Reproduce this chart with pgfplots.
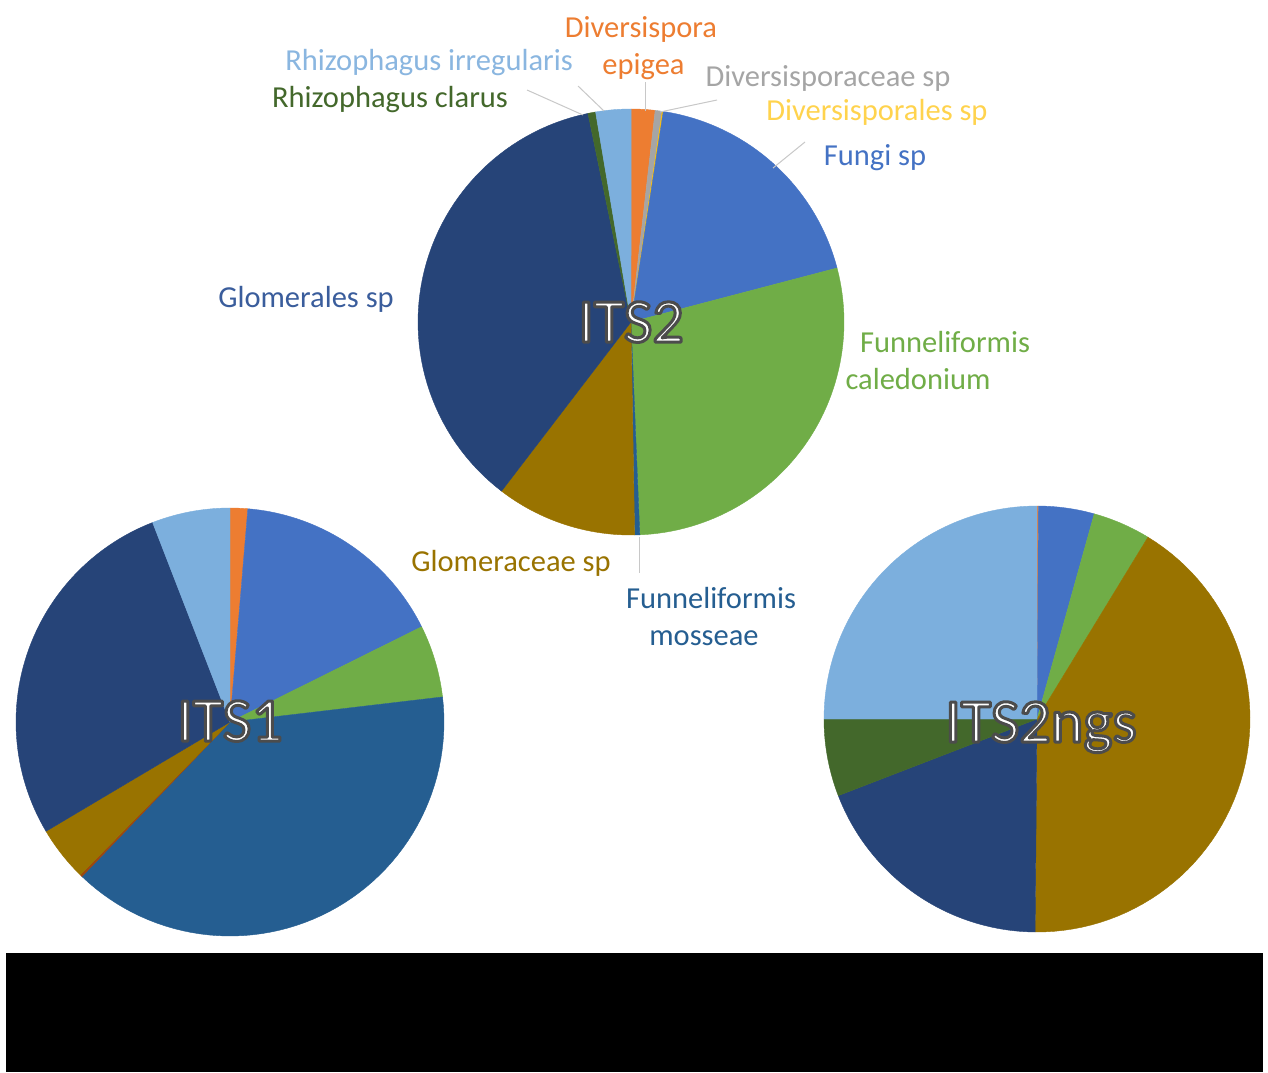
\documentclass[border=0pt]{standalone}
\usepackage{fontspec}
\setmainfont{Carlito}
\usepackage{pgfplots}
\pgfplotsset{compat=1.18}
\definecolor{cOr}{HTML}{ED7D31}
\definecolor{cGr}{HTML}{A5A5A5}
\definecolor{cGo}{HTML}{FFC000}
\definecolor{cFu}{HTML}{4472C4}
\definecolor{cCa}{HTML}{70AD47}
\definecolor{cMo}{HTML}{255E91}
\definecolor{cDo}{HTML}{9E480E}
\definecolor{cGl}{HTML}{997300}
\definecolor{cNa}{HTML}{264478}
\definecolor{cCl}{HTML}{43682B}
\definecolor{cIr}{HTML}{7CAFDD}
\definecolor{cLead}{HTML}{C8C8C8}
\definecolor{cGlt}{HTML}{3A5D9C}
\definecolor{cGot}{HTML}{FFD34D}
\definecolor{cIrt}{HTML}{8AB6E0}

% slice shares in percent, clockwise from 12 o'clock
\def\dataITStwo{1.81/cOr, 0.53/cGr, 0.08/cGo, 18.50/cFu, 28.42/cCa, 0.39/cMo, 10.67/cGl, 36.36/cNa, 0.58/cCl, 2.67/cIr}
\def\dataITSone{1.33/cOr, 16.33/cFu, 5.47/cCa, 39.03/cMo, 0.17/cDo, 4.14/cGl, 27.64/cNa, 5.89/cIr}
\def\dataITSngs{0.11/cOr, 4.22/cFu, 4.39/cCa, 41.42/cGl, 19.00/cNa, 5.86/cCl, 25.00/cIr}

\newcommand{\pie}[4]{%
  \gdef\cum{0}%
  \foreach \v/\c in #4{%
    \pgfmathsetmacro\a{\cum*3.6}%
    \pgfmathsetmacro\b{(\cum+\v)*3.6}%
    \edef\temp{\noexpand\addplot[fill=\c, draw=\c, line width=0.4pt, mark=none, domain=\a:\b, samples=60, variable=\noexpand\t] ({#1+#3*sin(\noexpand\t)}, {#2-#3*cos(\noexpand\t)}) -- (#1,#2) -- cycle;}%
    \temp
    \pgfmathsetmacro\nc{\cum+\v}%
    \xdef\cum{\nc}%
  }%
}
\tikzset{lbl/.style={anchor=base, inner sep=0pt, font=\fontsize{30.5}{36}\selectfont},
  ttl/.style={anchor=base, inner sep=0pt, font=\fontsize{62}{70}\selectfont}}
% white title text with a dark outline (PDF text render mode: fill + stroke)
\newcommand{\outl}[3]{%
  \node[ttl] at (#1,#2) {{\color{white}\special{pdf:literal direct 0.3 G 3 w 1 j 2 Tr}#3\special{pdf:literal direct 0 Tr}}};
}

\begin{document}
\begin{tikzpicture}
\fill[white] (0,0) rectangle (1268pt,1072pt);
\fill[black] (6pt,0) rectangle (1263pt,119pt);
\begin{axis}[
  scale only axis, width=1268pt, height=1072pt,
  xmin=0, xmax=1268, ymin=0, ymax=1072, y dir=reverse,
  hide axis, clip=false,
]
\pie{631}{322}{213}{\dataITStwo}
\pie{230}{722}{214}{\dataITSone}
\pie{1037}{719}{213}{\dataITSngs}

% leader lines
\draw[cLead, line width=1pt] (645,82) -- (645,111);
\draw[cLead, line width=1pt] (660,112) -- (717,100);
\draw[cLead, line width=1pt] (773,168) -- (805,142);
\draw[cLead, line width=1pt] (578,86) -- (604,111);
\draw[cLead, line width=1pt] (527,90) -- (583,115);
\draw[cLead, line width=1pt] (639,537) -- (639,573);

% labels
\node[lbl, text=cOr] at (641,37) {Diversispora};
\node[lbl, text=cOr] at (643.5,74) {epigea};
\node[lbl, text=cGr] at (828,86) {Diversisporaceae sp};
\node[lbl, text=cGot] at (877,120) {Diversisporales sp};
\node[lbl, text=cFu] at (875,165) {Fungi sp};
\node[lbl, text=cIrt] at (429,70) {Rhizophagus irregularis};
\node[lbl, text=cCl] at (390,107) {Rhizophagus clarus};
\node[lbl, text=cGlt] at (306,307) {Glomerales sp};
\node[lbl, text=cCa] at (945,352) {Funneliformis};
\node[lbl, text=cCa] at (918,389) {caledonium};
\node[lbl, text=cGl] at (511,571) {Glomeraceae sp};
\node[lbl, text=cMo] at (711,608) {Funneliformis};
\node[lbl, text=cMo] at (704,645) {mosseae};

% pie titles
\outl{631}{342}{ITS2}
\outl{230}{741}{ITS1}
\outl{1041}{742}{ITS2ngs}
\end{axis}
\end{tikzpicture}
\end{document}
